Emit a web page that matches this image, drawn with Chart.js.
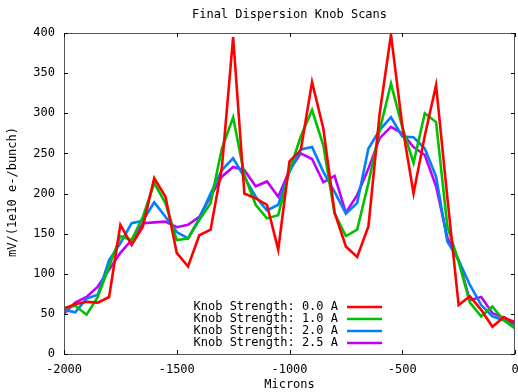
<!DOCTYPE html>
<html><head><meta charset="utf-8">
<script src="https://cdn.jsdelivr.net/npm/chart.js@4/dist/chart.umd.min.js"></script>
<style>html,body{margin:0;padding:0;background:#fff;overflow:hidden}</style>
</head><body><canvas id="c" width="518" height="392"></canvas>
<script>
const microns = [-2000,-1950,-1900,-1850,-1800,-1750,-1700,-1650,-1600,-1550,-1500,-1450,-1400,-1350,-1300,-1250,-1200,-1150,-1100,-1050,-1000,-950,-900,-850,-800,-750,-700,-650,-600,-550,-500,-450,-400,-350,-300,-250,-200,-150,-100,-50,0];
const knob00 = [57,62,65,64,71,161,136,159,219,196,126,109,148,155,232,395,200,194,186,130,240,254,339,281,176,134,121,159,300,398,285,200,272,335,195,61,72,55,34,46,38];
const knob10 = [57,60,49,71,109,147,142,171,213,188,142,144,167,188,256,295,223,186,169,173,229,271,304,260,175,147,155,213,279,337,283,238,300,289,159,115,64,47,59,42,32];
const knob20 = [55,52,69,74,117,138,163,166,189,171,152,144,169,200,229,244,220,196,179,186,227,255,258,227,202,175,188,256,279,295,271,270,256,221,140,117,86,61,47,42,36];
const knob25 = [50,64,71,84,105,126,142,163,164,165,158,161,171,196,221,233,229,209,215,196,229,250,243,214,222,176,198,231,269,283,275,258,248,209,145,117,67,71,51,45,40];
const seriesNames = ["Knob Strength: 0.0 A","Knob Strength: 1.0 A","Knob Strength: 2.0 A","Knob Strength: 2.5 A"];
const seriesColors = ["#ff0000","#00c000","#0080ff","#c000ff"];
const chartTitle = "Final Dispersion Knob Scans";
const xTitle = "Microns";
const yTitle = "mV/(1e10 e-/bunch)";

const FONT = "'DejaVu Sans Mono', monospace";
const allSeries = [knob00, knob10, knob20, knob25];
const datasets = allSeries.map((vals, k) => ({
  label: seriesNames[k],
  data: vals.map((v, i) => ({x: microns[i], y: v})),
  borderColor: seriesColors[k],
  backgroundColor: seriesColors[k],
  borderWidth: 2.6,
  pointRadius: 0,
  tension: 0,
  fill: false
}));

const decor = {
  id: 'decor',
  afterDraw(chart) {
    const ctx = chart.ctx, a = chart.chartArea;
    const xs = chart.scales.x, ys = chart.scales.y;
    ctx.save();
    ctx.strokeStyle = '#555';
    ctx.lineWidth = 1;
    ctx.strokeRect(Math.round(a.left) + 0.5, Math.round(a.top) + 0.5, Math.round(a.right - a.left) - 1, Math.round(a.bottom - a.top));
    ctx.strokeStyle = '#000';
    ctx.beginPath();
    xs.ticks.forEach(t => {
      const px = Math.round(xs.getPixelForValue(t.value)) + 0.5;
      ctx.moveTo(px, a.bottom); ctx.lineTo(px, a.bottom - 4);
      ctx.moveTo(px, a.top); ctx.lineTo(px, a.top + 4);
    });
    ys.ticks.forEach(t => {
      const py = Math.round(ys.getPixelForValue(t.value)) + 0.5;
      ctx.moveTo(a.left, py); ctx.lineTo(a.left + 4, py);
      ctx.moveTo(a.right, py); ctx.lineTo(a.right - 4, py);
    });
    ctx.stroke();
    ctx.fillStyle = '#000';
    ctx.font = "12px " + FONT;
    ctx.textAlign = 'center';
    ctx.textBaseline = 'middle';
    ctx.fillText(chartTitle, (a.left + a.right) / 2, 15);
    ctx.fillText(xTitle, (a.left + a.right) / 2, 385);
    ctx.save();
    ctx.translate(13, 192);
    ctx.rotate(-Math.PI / 2);
    ctx.fillText(yTitle, 0, 0);
    ctx.restore();
    ctx.textAlign = 'right';
    seriesNames.forEach((n, k) => {
      const y = 307 + k * 12;
      ctx.fillStyle = '#000';
      ctx.fillText(n, 338, y);
      ctx.strokeStyle = seriesColors[k];
      ctx.lineWidth = 2.6;
      ctx.beginPath();
      ctx.moveTo(347, y); ctx.lineTo(382, y);
      ctx.stroke();
    });
    ctx.restore();
  }
};

new Chart(document.getElementById('c'), {
  type: 'line',
  data: { datasets },
  options: {
    responsive: false,
    animation: false,
    devicePixelRatio: 1,
    layout: { padding: { top: 33, right: 3, left: 0, bottom: 0 } },
    plugins: { legend: { display: false }, title: { display: false }, tooltip: { enabled: false } },
    scales: {
      x: {
        type: 'linear', min: -2000, max: 0,
        grid: { display: false, drawTicks: false },
        border: { display: false },
        ticks: { stepSize: 500, padding: 9, maxRotation: 0, color: '#000', font: { family: FONT, size: 12 }, callback: v => String(v) },
        afterFit: s => { s.height = 38; s.paddingLeft = 0; s.paddingRight = 0; }
      },
      y: {
        type: 'linear', min: 0, max: 400,
        grid: { display: false, drawTicks: false },
        border: { display: false },
        ticks: { stepSize: 50, padding: 9, color: '#000', font: { family: FONT, size: 12 }, callback: v => String(v) },
        afterFit: s => { s.width = 64; s.paddingTop = 0; s.paddingBottom = 0; }
      }
    }
  },
  plugins: [decor]
});
</script>
</body></html>
